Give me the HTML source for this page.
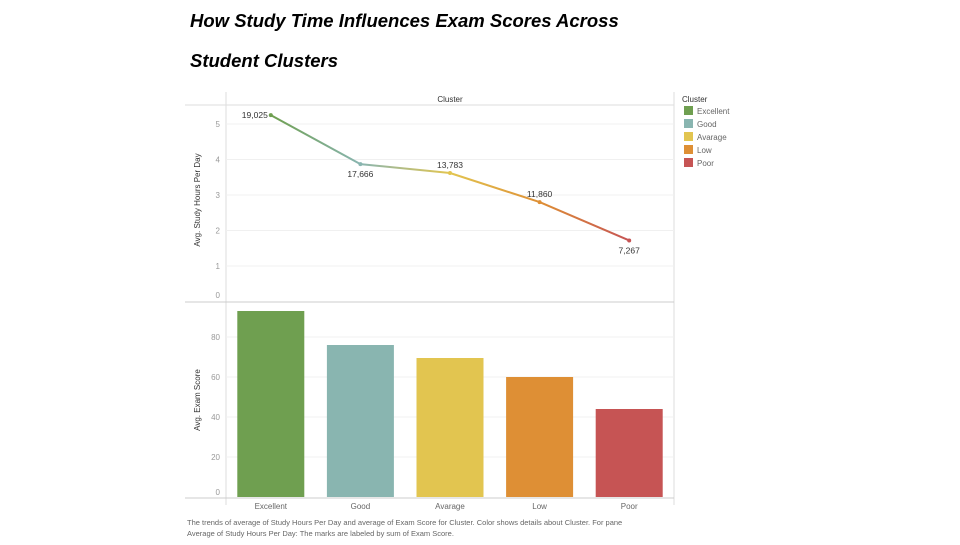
<!DOCTYPE html>
<html><head><meta charset="utf-8"><style>
body{margin:0;background:#fff;width:960px;height:540px;overflow:hidden;font-family:"Liberation Sans",sans-serif}
</style></head><body>
<svg id="c" width="960" height="540" xmlns="http://www.w3.org/2000/svg">
<defs id="defs"></defs>
<text x="190" y="27" font-size="18.5" font-weight="bold" font-style="italic" fill="#000">How Study Time Influences Exam Scores Across</text>
<text x="190" y="67" font-size="18.5" font-weight="bold" font-style="italic" fill="#000">Student Clusters</text>
<text x="450" y="102" font-size="8" fill="#333" text-anchor="middle">Cluster</text>
<line x1="185" y1="105" x2="674" y2="105" stroke="#ddd"/>
<line x1="226" y1="92" x2="226" y2="505" stroke="#ddd"/>
<line x1="674" y1="92" x2="674" y2="505" stroke="#ddd"/>
<line x1="185" y1="302" x2="674" y2="302" stroke="#ccc"/>
<line x1="185" y1="498" x2="674" y2="498" stroke="#ccc"/>
<text transform="translate(200,200) rotate(-90)" font-size="8" fill="#333" text-anchor="middle">Avg. Study Hours Per Day</text>
<text transform="translate(200,400) rotate(-90)" font-size="8" fill="#333" text-anchor="middle">Avg. Exam Score</text>
<g id="g"></g>
<text x="187" y="525" font-size="7.5" fill="#666">The trends of average of Study Hours Per Day and average of Exam Score for Cluster.  Color shows details about Cluster.  For pane</text>
<text x="187" y="536" font-size="7.5" fill="#666">Average of Study Hours Per Day:  The marks are labeled by sum of Exam Score.</text>
<text x="682" y="102" font-size="8" fill="#333">Cluster</text>
</svg>
<script>
const categories=["Excellent","Good","Avarage","Low","Poor"];
const hours=[5.25,3.87,3.62,2.80,1.72];
const scores=[93,76,69.5,60,44];
const sumLabels=["19,025","17,666","13,783","11,860","7,267"];
const colors=["#6f9f50","#89b5b0","#e2c550","#de8f35","#c65454"];
const hourTicks=[0,1,2,3,4,5];
const scoreTicks=[0,20,40,60,80];
const NS="http://www.w3.org/2000/svg",g=document.getElementById('g'),defs=document.getElementById('defs');
function mk(t,a,txt,p){const e=document.createElementNS(NS,t);for(const k in a)e.setAttribute(k,a[k]);if(txt!=null)e.textContent=txt;(p||g).appendChild(e);return e;}
const x0=226,x1=674,bw=(x1-x0)/categories.length;
const xc=i=>x0+bw*(i+0.5);
const yH=v=>301.5-v*35.5;
const yS=v=>497-v*2;
hourTicks.forEach(t=>{if(t>0){const l=mk('line',{x1:226,x2:674,y1:yH(t),y2:yH(t),stroke:'#f0f0f0'});

}
const tx=mk('text',{x:220,y:Math.min(yH(t)+3,298),'font-size':8,fill:'#999','text-anchor':'end'},t);

});
scoreTicks.forEach(t=>{if(t>0){const l=mk('line',{x1:226,x2:674,y1:yS(t),y2:yS(t),stroke:'#f0f0f0'});

}
const tx=mk('text',{x:220,y:Math.min(yS(t)+3,495),'font-size':8,fill:'#999','text-anchor':'end'},t);

});
categories.forEach((c,i)=>{
const r=mk('rect',{x:xc(i)-33.5,y:yS(scores[i]),width:67,height:yS(0)-yS(scores[i]),fill:colors[i]});


const xl=mk('text',{x:xc(i),y:509,'font-size':8,fill:'#666','text-anchor':'middle'},c);


if(i<categories.length-1){
const gr=mk('linearGradient',{id:'lg'+i,gradientUnits:'userSpaceOnUse',x1:xc(i),y1:0,x2:xc(i+1),y2:0},null,defs);
mk('stop',{offset:'0',  'stop-color':colors[i]},null,gr);
mk('stop',{offset:'1','stop-color':colors[i+1]},null,gr);
const s=mk('line',{x1:xc(i),y1:yH(hours[i]),x2:xc(i+1),y2:yH(hours[i+1]),stroke:'url(#lg'+i+')','stroke-width':2});

}
});
categories.forEach((c,i)=>{
const p=mk('circle',{cx:xc(i),cy:yH(hours[i]),r:2,fill:colors[i]});


const above=(i==0||i==2||i==3);
const lt=mk('text',{x:i==0?xc(i)-3:xc(i),y:above?yH(hours[i])-5:yH(hours[i])+13,'font-size':8.5,fill:'#333','text-anchor':i==0?'end':'middle'},sumLabels[i]);
if(i==0){lt.setAttribute('y',yH(hours[i])+3);}


const sw=mk('rect',{x:684,y:106+i*13,width:9,height:9,fill:colors[i]});


const lg=mk('text',{x:697,y:114+i*13,'font-size':8,fill:'#666'},c);


});
</script>
</body></html>
